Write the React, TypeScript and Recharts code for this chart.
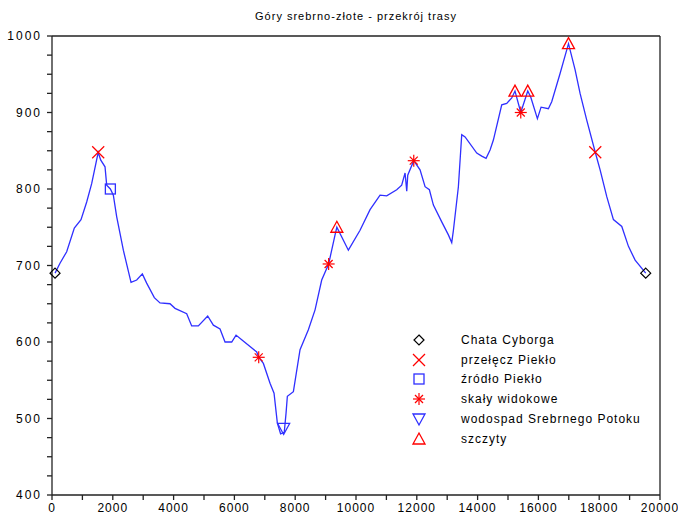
import {
  ScatterChart,
  Scatter,
  XAxis,
  YAxis,
  ReferenceLine,
} from "recharts";

// route profile: distance [m] vs altitude [m]
const profile = [
  [100, 690], [263, 703], [483, 718], [734, 749], [954, 760], [1141, 783],
  [1305, 807], [1520, 848], [1600, 838], [1744, 829], [1799, 805], [1920, 800],
  [2018, 792], [2127, 764], [2347, 720], [2600, 678], [2786, 681], [2972, 689],
  [3114, 677], [3366, 658], [3553, 651], [3882, 650], [4047, 644], [4431, 637],
  [4595, 621], [4814, 621], [5121, 634], [5308, 622], [5527, 617], [5692, 600],
  [5912, 600], [6054, 609], [6240, 603], [6514, 594], [6734, 587], [6800, 580],
  [6953, 572], [7172, 546], [7304, 533], [7413, 494], [7520, 480], [7640, 482],
  [7699, 507], [7742, 529], [7940, 535], [8159, 590], [8433, 616], [8653, 642],
  [8872, 681], [9100, 702], [9311, 740], [9370, 750], [9749, 720], [10133, 746],
  [10462, 773], [10791, 792], [11010, 791], [11339, 799], [11503, 805], [11614, 821],
  [11669, 797], [11702, 818], [11900, 837], [12107, 825], [12272, 803], [12414, 799],
  [12546, 779], [12820, 757], [13039, 740], [13149, 730], [13204, 746], [13368, 803],
  [13478, 871], [13588, 868], [13972, 847], [14136, 843], [14279, 840], [14410, 851],
  [14519, 864], [14794, 910], [14958, 912], [15123, 919], [15230, 928], [15420, 900],
  [15650, 928], [15750, 920], [15967, 892], [16088, 907], [16328, 905], [16438, 914],
  [16713, 951], [16990, 990], [17206, 956], [17371, 925], [17590, 890], [17870, 848],
  [18030, 825], [18249, 790], [18468, 760], [18743, 751], [18962, 725], [19182, 707],
  [19530, 690],
];

const chata = [[100, 690], [19530, 690]];
const przelecz = [[1520, 848], [17870, 848]];
const zrodlo = [[1920, 800]];
const skaly = [[6800, 580], [9100, 702], [11900, 837], [15420, 900]];
const wodospad = [[7620, 487]];
const szczyty = [[9370, 750], [15230, 928], [15650, 928], [16990, 990]];

const xTicks = [
  0, 1000, 2000, 3000, 4000, 5000, 6000, 7000, 8000, 9000, 10000,
  11000, 12000, 13000, 14000, 15000, 16000, 17000, 18000, 19000, 20000,
];
const yTicks = [
  400, 425, 450, 475, 500, 525, 550, 575, 600, 625, 650, 675, 700,
  725, 750, 775, 800, 825, 850, 875, 900, 925, 950, 975, 1000,
];

const title = "Góry srebrno-złote - przekrój trasy";

const toPts = (rows: number[][]) => rows.map(([x, y]) => ({ x, y }));

const BLUE = "#2f2fff";
const RED = "#ff0000";
const AXIS = "#222";

const Diamond = ({ cx, cy }: any) => (
  <polygon
    points={`${cx},${cy - 5} ${cx + 5},${cy} ${cx},${cy + 5} ${cx - 5},${cy}`}
    fill="none"
    stroke="#000"
    strokeWidth={1.2}
  />
);
const Cross = ({ cx, cy }: any) => (
  <g stroke={RED} strokeWidth={1.2}>
    <line x1={cx - 6} y1={cy - 6} x2={cx + 6} y2={cy + 6} />
    <line x1={cx - 6} y1={cy + 6} x2={cx + 6} y2={cy - 6} />
  </g>
);
const Square = ({ cx, cy }: any) => (
  <rect
    x={cx - 5}
    y={cy - 5}
    width={10}
    height={10}
    fill="none"
    stroke={BLUE}
    strokeWidth={1.3}
  />
);
const Star = ({ cx, cy }: any) => (
  <g stroke={RED} strokeWidth={1.2}>
    <line x1={cx} y1={cy - 6} x2={cx} y2={cy + 6} />
    <line x1={cx - 6} y1={cy} x2={cx + 6} y2={cy} />
    <line x1={cx - 4} y1={cy - 4} x2={cx + 4} y2={cy + 4} />
    <line x1={cx - 4} y1={cy + 4} x2={cx + 4} y2={cy - 4} />
  </g>
);
const TriDown = ({ cx, cy }: any) => (
  <polygon
    points={`${cx - 6},${cy - 5} ${cx + 6},${cy - 5} ${cx},${cy + 6}`}
    fill="none"
    stroke={BLUE}
    strokeWidth={1.3}
  />
);
const TriUp = ({ cx, cy }: any) => (
  <polygon
    points={`${cx - 6},${cy + 5} ${cx + 6},${cy + 5} ${cx},${cy - 6}`}
    fill="none"
    stroke={RED}
    strokeWidth={1.3}
  />
);
const NoDot = () => <g />;

const legendItems = [
  { name: "Chata Cyborga", Icon: Diamond },
  { name: "przełęcz Piekło", Icon: Cross },
  { name: "źródło Piekło", Icon: Square },
  { name: "skały widokowe", Icon: Star },
  { name: "wodospad Srebrnego Potoku", Icon: TriDown },
  { name: "szczyty", Icon: TriUp },
];

const font = "'Liberation Sans', Arial, sans-serif";

export default function App() {
  return (
    <div
      style={{
        position: "absolute",
        left: 0,
        top: 0,
        width: 678,
        height: 519,
        background: "#fff",
        fontFamily: font,
      }}
    >
      <div
        style={{
          position: "absolute",
          left: 52,
          width: 608,
          top: 10,
          textAlign: "center",
          fontSize: 11,
          letterSpacing: 1,
          color: "#000",
        }}
      >
        {title}
      </div>
      <ScatterChart
        width={678}
        height={519}
        margin={{ top: 36, right: 18, bottom: 0, left: 0 }}
      >
        <XAxis
          type="number"
          dataKey="x"
          domain={[0, 20000]}
          ticks={xTicks}
          interval={0}
          tickFormatter={(v: number) => (v % 2000 === 0 ? String(v) : "")}
          height={24}
          tickSize={5}
          tickMargin={3}
          stroke={AXIS}
          strokeWidth={1.3}
          tick={{ fill: "#000", fontSize: 12, fontFamily: font, letterSpacing: 1 }}
        />
        <YAxis
          type="number"
          dataKey="y"
          domain={[400, 1000]}
          ticks={yTicks}
          interval={0}
          tickFormatter={(v: number) => (v % 100 === 0 ? String(v) : "")}
          width={52}
          tickSize={5}
          tickMargin={5}
          stroke={AXIS}
          strokeWidth={1.3}
          tick={{ fill: "#000", fontSize: 12, fontFamily: font, letterSpacing: 2 }}
        />
        <ReferenceLine y={1000} stroke={AXIS} strokeWidth={1.3} />
        <ReferenceLine x={20000} stroke={AXIS} strokeWidth={1.3} />
        <Scatter
          data={toPts(profile)}
          line={{ stroke: BLUE, strokeWidth: 1.3 }}
          lineType="joint"
          shape={NoDot}
          isAnimationActive={false}
        />
        <Scatter data={toPts(chata)} shape={Diamond} isAnimationActive={false} />
        <Scatter data={toPts(przelecz)} shape={Cross} isAnimationActive={false} />
        <Scatter data={toPts(zrodlo)} shape={Square} isAnimationActive={false} />
        <Scatter data={toPts(skaly)} shape={Star} isAnimationActive={false} />
        <Scatter data={toPts(wodospad)} shape={TriDown} isAnimationActive={false} />
        <Scatter data={toPts(szczyty)} shape={TriUp} isAnimationActive={false} />
      </ScatterChart>
      <div style={{ position: "absolute", left: 405, top: 330 }}>
        {legendItems.map(({ name, Icon }) => (
          <div
            key={name}
            style={{ display: "flex", alignItems: "center", height: 19.8 }}
          >
            <svg width={28} height={18}>
              <Icon cx={14} cy={9} />
            </svg>
            <span
              style={{
                marginLeft: 28,
                fontSize: 12,
                letterSpacing: 1,
                color: "#000",
                whiteSpace: "nowrap",
              }}
            >
              {name}
            </span>
          </div>
        ))}
      </div>
    </div>
  );
}
